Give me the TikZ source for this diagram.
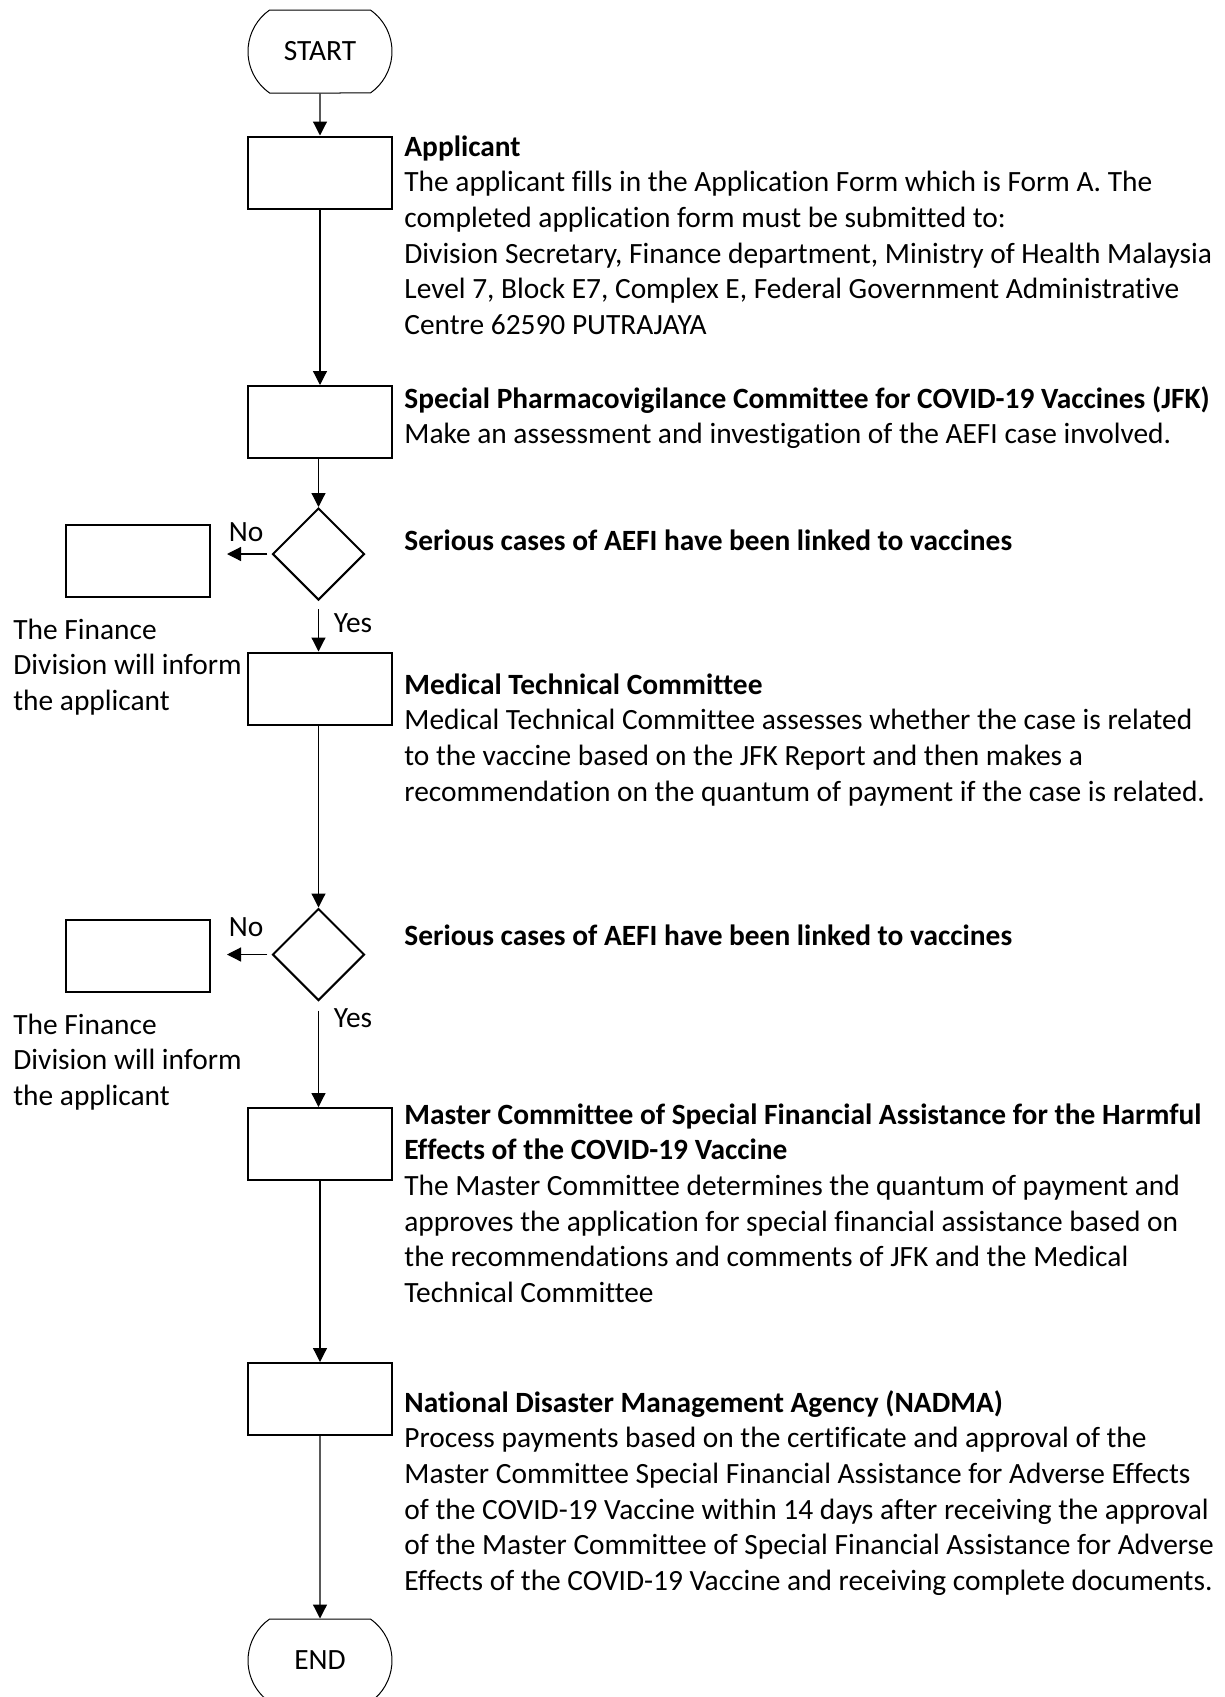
\documentclass[tikz,border=0pt]{standalone}
\usepackage{fontspec}
\setmainfont[Ligatures=NoCommon]{Carlito}
\usepackage{tikz}
\usetikzlibrary{shapes.geometric}
\usetikzlibrary{shapes.misc}
\usetikzlibrary{arrows.meta}
\newcommand{\textblock}[1]{\begin{tabular}[t]{@{}l@{}}#1\end{tabular}}

\begin{document}
\begin{tikzpicture}[x=0.5pt,y=-0.5pt,
	font=\fontsize{14.7}{17.85}\selectfont,
	stepbox/.style={draw,line width=1pt,minimum width=72pt,minimum height=36pt,inner sep=0pt},
	choice/.style={draw,line width=1pt,diamond,aspect=1,minimum size=46pt,inner sep=0pt},
	terminal/.style={draw,line width=0.5pt,rounded rectangle,rounded rectangle arc length=110,minimum width=72pt,minimum height=41.5pt,inner sep=0pt},
	info/.style={anchor=base west,inner sep=0pt},
	flow/.style={line width=0.6pt,-{Triangle[length=7pt,width=7pt]}}]
	\useasboundingbox (0,0) rectangle (1225,1697);
	%% main column
	\node[terminal] (start) at (320,51.5) {START};
	\node[stepbox] (applicant) at (320,172.5) {};
	\node[stepbox] (jfk) at (320,422) {};
	\node[choice] (linkA) at (318.5,554) {};
	\node[stepbox] (medical) at (320,688.5) {};
	\node[choice] (linkB) at (318.5,954.5) {};
	\node[stepbox] (master) at (320,1144) {};
	\node[stepbox] (nadma) at (320,1399) {};
	\node[terminal] (end) at (320,1660.5) {END};
	%% side boxes
	\node[stepbox] (informA) at (138,561) {};
	\node[stepbox] (informB) at (138,956) {};
	%% texts
	\node[info] (tApplicant) at (404,156) {\textblock{\textbf{Applicant}\\
		The applicant fills in the Application Form which is Form A. The\\
		completed application form must be submitted to:\\
		Division Secretary, Finance department, Ministry of Health Malaysia\\
		Level 7, Block E7, Complex E, Federal Government Administrative\\
		Centre 62590 PUTRAJAYA}};
	\node[info] (tJfk) at (404,408) {\textblock{\textbf{Special Pharmacovigilance Committee for COVID-19 Vaccines (JFK)}\\
		Make an assessment and investigation of the AEFI case involved.}};
	\node[info] (tLinkA) at (404,550) {\textbf{Serious cases of AEFI have been linked to vaccines}};
	\node[info] (tMedical) at (404,694) {\textblock{\textbf{Medical Technical Committee}\\
		Medical Technical Committee assesses whether the case is related\\
		to the vaccine based on the JFK Report and then makes a\\
		recommendation on the quantum of payment if the case is related.}};
	\node[info] (tLinkB) at (404,945) {\textbf{Serious cases of AEFI have been linked to vaccines}};
	\node[info] (tMaster) at (404,1124) {\textblock{\textbf{Master Committee of Special Financial Assistance for the Harmful}\\
		\textbf{Effects of the COVID-19 Vaccine}\\
		The Master Committee determines the quantum of payment and\\
		approves the application for special financial assistance based on\\
		the recommendations and comments of JFK and the Medical\\
		Technical Committee}};
	\node[info] (tNadma) at (404,1412) {\textblock{\textbf{National Disaster Management Agency (NADMA)}\\
		Process payments based on the certificate and approval of the\\
		Master Committee Special Financial Assistance for Adverse Effects\\
		of the COVID-19 Vaccine within 14 days after receiving the approval\\
		of the Master Committee of Special Financial Assistance for Adverse\\
		Effects of the COVID-19 Vaccine and receiving complete documents.}};
	\node[info] (tInformA) at (13,639) {\textblock{The Finance\\Division will inform\\the applicant}};
	\node[info] (tInformB) at (13,1034) {\textblock{The Finance\\Division will inform\\the applicant}};
	\node (noA) at (246,532) {No};
	\node (yesA) at (353,623) {Yes};
	\node (noB) at (246,927) {No};
	\node (yesB) at (353,1018) {Yes};
	%% connectors
	\draw[flow] (start) -- (applicant);
	\draw[flow] (applicant) -- (jfk);
	\draw[flow] (jfk.south -| linkA.north) -- (linkA);
	\draw[flow,shorten <=4pt] (linkA) -- (medical.north -| linkA.south);
	\draw[flow,shorten <=2pt,shorten >=8pt] (linkA) -- (linkA.west -| informA.east);
	\draw[flow] (medical.south -| linkB.north) -- (linkB);
	\draw[flow,shorten <=4.5pt] (linkB) -- (master.north -| linkB.south);
	\draw[flow,shorten <=2pt,shorten >=8pt] (linkB) -- (linkB.west -| informB.east);
	\draw[flow] (master) -- (nadma);
	\draw[flow] (nadma) -- (end);
\end{tikzpicture}
\end{document}
